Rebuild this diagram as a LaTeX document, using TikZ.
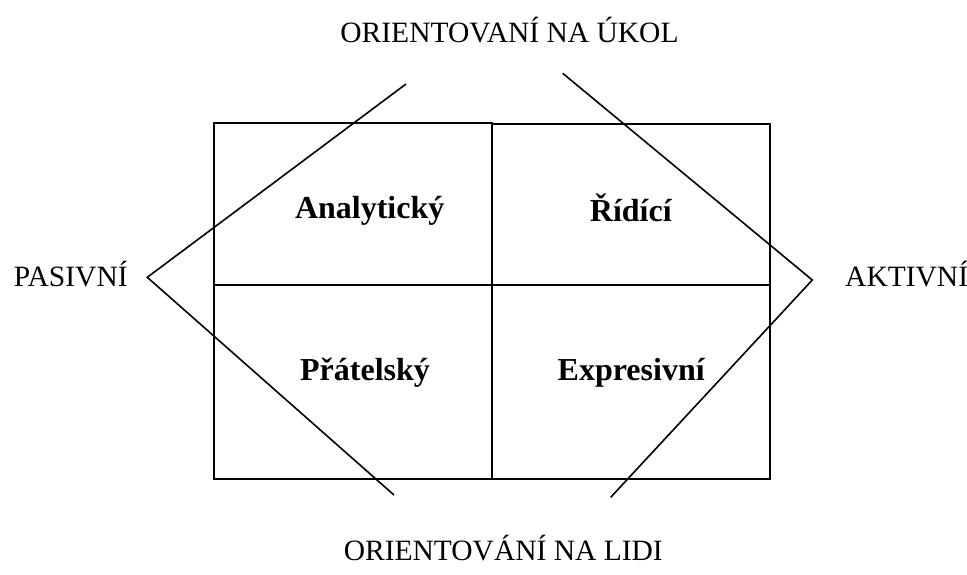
\documentclass[tikz,border=0pt]{standalone}
\usepackage{fontspec}
\setmainfont{Liberation Serif}
\begin{document}
\begin{tikzpicture}[x=1pt,y=-1pt,
  box/.style={draw=black,line width=1.8pt},
  axis/.style={inner sep=0pt,anchor=base,font=\fontsize{29.5}{35}\selectfont},
  lbl/.style={inner sep=0pt,anchor=base,font=\fontsize{32}{38}\selectfont\bfseries},
  vline/.style={draw=black,line width=1.6pt,line join=miter}]
\useasboundingbox (0,0) rectangle (967,574);
% boxes
\draw[box] (214,122.7) rectangle (492.3,285);
\draw[box] (492.3,124.3) rectangle (770.3,285);
\draw[box] (214,285) rectangle (492.3,479);
\draw[box] (492.3,285) rectangle (770.3,479);
% labels
\node[lbl] (an) at (369.7,218.3) {Analytický};
\node[lbl] (ri) at (630.8,221.7) {Řídící};
\node[lbl] (pr) at (365,380) {Přátelský};
\node[lbl] (ex) at (631.2,380) {Expresivní};
% axis texts
\node[axis] (uk) at (509.5,42.3) {ORIENTOVANÍ NA ÚKOL};
\node[axis] (li) at (503.3,560) {ORIENTOVÁNÍ NA LIDI};
\node[axis] (pa) at (70.8,286.7) {PASIVNÍ};
\node[axis,anchor=base west] (ak) at (845,286.7) {AKTIVNÍ};
% V lines
\coordinate (l1) at (406,84);
\coordinate (la) at (147.3,277.3);
\coordinate (l2) at (394,495);
\coordinate (r1) at (562.7,73.3);
\coordinate (ra) at (812.3,280);
\coordinate (r2) at (610.7,497.3);
\draw[vline] (l1) -- (la) -- (l2);
\draw[vline] (r1) -- (ra) -- (r2);
\end{tikzpicture}
\end{document}
